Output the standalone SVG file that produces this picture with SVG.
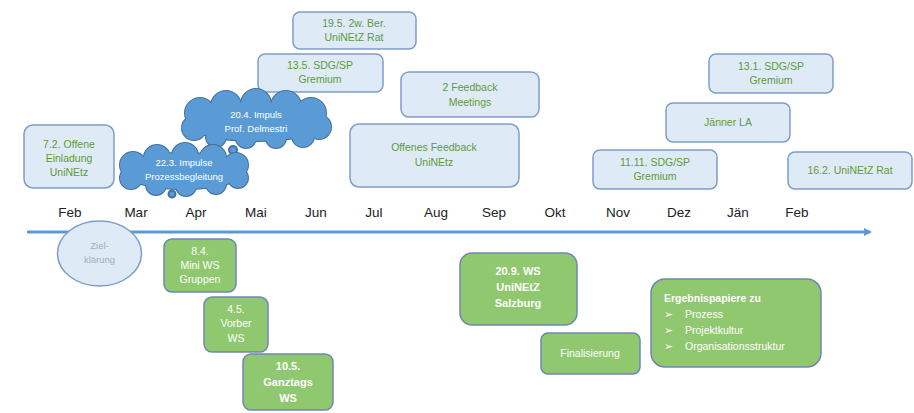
<svg xmlns="http://www.w3.org/2000/svg" width="914" height="413" viewBox="0 0 914 413">
<style>
.bb{fill:#deebf7;stroke:#7f9dc9;stroke-width:1.5}
.bt{font-family:"Liberation Sans",Arial,sans-serif;font-size:10.5px;fill:#5e9a38;text-anchor:middle}
.gb{fill:#8fc86e;stroke:#6f86b5;stroke-width:1.5}
.gt{font-family:"Liberation Sans",Arial,sans-serif;font-size:10.5px;fill:#ffffff;text-anchor:middle}
.gtb{font-family:"Liberation Sans",Arial,sans-serif;font-size:11px;font-weight:bold;fill:#ffffff;text-anchor:middle}
.mt{font-family:"Liberation Sans",Arial,sans-serif;font-size:13.5px;fill:#222;text-anchor:middle}
.cs{fill:#5b9bd5;stroke:#41719c;stroke-width:2}
.cf{fill:#5b9bd5}
.ct{font-family:"Liberation Sans",Arial,sans-serif;font-size:9.5px;fill:#ffffff;text-anchor:middle}
</style>
<defs>
<marker id="ah" markerWidth="8" markerHeight="8" refX="6" refY="4" orient="auto" markerUnits="userSpaceOnUse">
<path d="M0,0 L8,4 L0,8 z" fill="#5b9bd5"/>
</marker>
</defs>
<rect width="914" height="413" fill="#ffffff"/>

<g id="connectors">
<line x1="27" y1="232" x2="870" y2="232" stroke="#5b9bd5" stroke-width="3" marker-end="url(#ah)"/>
</g>

<g id="months">
<text class="mt" x="70" y="217">Feb</text>
<text class="mt" x="136" y="217">Mar</text>
<text class="mt" x="196" y="217">Apr</text>
<text class="mt" x="256" y="217">Mai</text>
<text class="mt" x="316" y="217">Jun</text>
<text class="mt" x="374" y="217">Jul</text>
<text class="mt" x="436" y="217">Aug</text>
<text class="mt" x="494" y="217">Sep</text>
<text class="mt" x="555" y="217">Okt</text>
<text class="mt" x="618" y="217">Nov</text>
<text class="mt" x="679" y="217">Dez</text>
<text class="mt" x="738" y="217">Jän</text>
<text class="mt" x="797" y="217">Feb</text>
</g>

<g id="n-einladung">
<rect class="bb" x="24" y="125" width="90" height="63" rx="9"/>
<text class="bt" x="69" y="148">7.2. Offene</text>
<text class="bt" x="69" y="162">Einladung</text>
<text class="bt" x="69" y="176">UniNEtz</text>
</g>

<g id="n-rat195">
<rect class="bb" x="293" y="12" width="123" height="37" rx="7"/>
<text class="bt" x="354" y="27">19.5. 2w. Ber.</text>
<text class="bt" x="354" y="41">UniNEtZ Rat</text>
</g>

<g id="n-sdg135">
<rect class="bb" x="258" y="54" width="125" height="38" rx="7"/>
<text class="bt" x="320" y="69">13.5. SDG/SP</text>
<text class="bt" x="320" y="83">Gremium</text>
</g>

<g id="n-feedback2">
<rect class="bb" x="401" y="72" width="138" height="45" rx="8"/>
<text class="bt" x="470" y="91">2 Feedback</text>
<text class="bt" x="470" y="106">Meetings</text>
</g>

<g id="n-offenes">
<rect class="bb" x="350" y="124" width="169" height="63" rx="9"/>
<text class="bt" x="434" y="151">Offenes Feedback</text>
<text class="bt" x="434" y="166">UniNEtz</text>
</g>

<g id="n-sdg1111">
<rect class="bb" x="593" y="150" width="124" height="39" rx="7"/>
<text class="bt" x="655" y="166">11.11. SDG/SP</text>
<text class="bt" x="655" y="180">Gremium</text>
</g>

<g id="n-jaenner">
<rect class="bb" x="666" y="103" width="124" height="39" rx="7"/>
<text class="bt" x="728" y="126">Jänner LA</text>
</g>

<g id="n-sdg131">
<rect class="bb" x="709" y="54" width="124" height="39" rx="7"/>
<text class="bt" x="771" y="70">13.1. SDG/SP</text>
<text class="bt" x="771" y="84">Gremium</text>
</g>

<g id="n-rat162">
<rect class="bb" x="788" y="152" width="124" height="37" rx="7"/>
<text class="bt" x="850" y="174">16.2. UniNEtZ Rat</text>
</g>

<g id="n-impuls204">
<g class="cs">
<ellipse cx="256" cy="122" rx="70" ry="19"/>
<circle cx="200" cy="113" r="15"/><circle cx="226" cy="106" r="15"/><circle cx="256" cy="104" r="15"/><circle cx="286" cy="106" r="15"/><circle cx="311" cy="113" r="15"/>
<circle cx="319" cy="127" r="12"/><circle cx="303" cy="136" r="11"/><circle cx="276" cy="138" r="10"/><circle cx="246" cy="138" r="10"/><circle cx="216" cy="137" r="10"/><circle cx="194" cy="128" r="12"/>
<circle cx="233" cy="150" r="4"/>
</g>
<g class="cf">
<ellipse cx="256" cy="122" rx="70" ry="19"/>
<circle cx="200" cy="113" r="15"/><circle cx="226" cy="106" r="15"/><circle cx="256" cy="104" r="15"/><circle cx="286" cy="106" r="15"/><circle cx="311" cy="113" r="15"/>
<circle cx="319" cy="127" r="12"/><circle cx="303" cy="136" r="11"/><circle cx="276" cy="138" r="10"/><circle cx="246" cy="138" r="10"/><circle cx="216" cy="137" r="10"/><circle cx="194" cy="128" r="12"/>
</g>
<text class="ct" x="256" y="118">20.4. Impuls</text>
<text class="ct" x="256" y="132">Prof. Delmestri</text>
</g>

<g id="n-impulse223">
<g class="cs">
<ellipse cx="184" cy="171" rx="62" ry="18"/>
<circle cx="133" cy="165" r="13"/><circle cx="157" cy="158" r="13"/><circle cx="185" cy="156" r="13"/><circle cx="213" cy="158" r="13"/><circle cx="236" cy="165" r="12"/>
<circle cx="238" cy="178" r="10"/><circle cx="216" cy="184" r="10"/><circle cx="186" cy="186" r="10"/><circle cx="156" cy="185" r="10"/><circle cx="131" cy="178" r="11"/>
<circle cx="172" cy="194" r="3.5"/>
</g>
<g class="cf">
<ellipse cx="184" cy="171" rx="62" ry="18"/>
<circle cx="133" cy="165" r="13"/><circle cx="157" cy="158" r="13"/><circle cx="185" cy="156" r="13"/><circle cx="213" cy="158" r="13"/><circle cx="236" cy="165" r="12"/>
<circle cx="238" cy="178" r="10"/><circle cx="216" cy="184" r="10"/><circle cx="186" cy="186" r="10"/><circle cx="156" cy="185" r="10"/><circle cx="131" cy="178" r="11"/>
</g>
<text class="ct" x="184" y="166">22.3. Impulse</text>
<text class="ct" x="184" y="180">Prozessbegleitung</text>
</g>

<g id="n-ziel">
<ellipse cx="99.5" cy="253.5" rx="42" ry="32.5" fill="#deebf7" stroke="#7f9dc9" stroke-width="1.5"/>
<text x="99.5" y="249" font-family="'Liberation Sans',Arial,sans-serif" font-size="9.5" fill="#9fb0b8" text-anchor="middle">Ziel-</text>
<text x="99.5" y="263" font-family="'Liberation Sans',Arial,sans-serif" font-size="9.5" fill="#9fb0b8" text-anchor="middle">klärung</text>
</g>

<g id="n-miniws">
<rect class="gb" x="164" y="239" width="72" height="53" rx="8"/>
<text class="gt" x="200" y="255">8.4.</text>
<text class="gt" x="200" y="269">Mini WS</text>
<text class="gt" x="200" y="283">Gruppen</text>
</g>

<g id="n-vorber">
<rect class="gb" x="204" y="297" width="64" height="55" rx="8"/>
<text class="gt" x="236" y="313">4.5.</text>
<text class="gt" x="236" y="327">Vorber</text>
<text class="gt" x="236" y="342">WS</text>
</g>

<g id="n-ganztags">
<rect class="gb" x="243" y="354" width="90" height="56" rx="8"/>
<text class="gtb" x="288" y="370">10.5.</text>
<text class="gtb" x="288" y="386">Ganztags</text>
<text class="gtb" x="288" y="402">WS</text>
</g>

<g id="n-salzburg">
<rect class="gb" x="460" y="253" width="117" height="72" rx="12"/>
<text class="gtb" x="518" y="275">20.9. WS</text>
<text class="gtb" x="518" y="291">UniNEtZ</text>
<text class="gtb" x="518" y="307">Salzburg</text>
</g>

<g id="n-final">
<rect class="gb" x="541" y="333" width="99" height="41" rx="7"/>
<text class="gt" x="590" y="357">Finalisierung</text>
</g>

<g id="n-ergebnis">
<rect class="gb" x="651" y="279" width="170" height="88" rx="14"/>
<text x="664" y="302" font-family="'Liberation Sans',Arial,sans-serif" font-size="10.5" font-weight="bold" fill="#ffffff">Ergebnispapiere zu</text>
<g font-family="'DejaVu Sans',sans-serif" font-size="11" fill="#ffffff">
<text x="664" y="318">➢</text><text x="664" y="334">➢</text><text x="664" y="350">➢</text>
</g>
<g font-family="'Liberation Sans',Arial,sans-serif" font-size="10.5" fill="#ffffff">
<text x="685" y="318">Prozess</text>
<text x="685" y="334">Projektkultur</text>
<text x="685" y="350">Organisationsstruktur</text>
</g>
</g>
</svg>
